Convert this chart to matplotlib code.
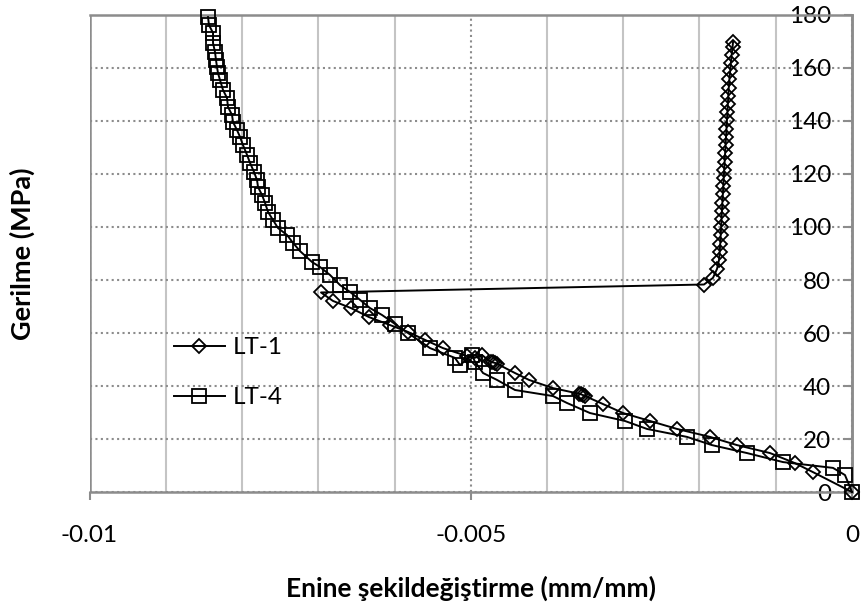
import matplotlib
matplotlib.use("Agg")
import matplotlib.pyplot as plt
from matplotlib.ticker import MultipleLocator, FixedLocator

# --- Data: lateral strain (mm/mm) vs. stress (MPa) ---
LT1_STRAIN = [
    0.0, -0.000511, -0.000748, -0.001075, -0.001508, -0.001862, -0.002295,
    -0.002649, -0.003003, -0.003266, -0.00350, -0.00353, -0.00356, -0.00358,
    -0.003921, -0.004236, -0.004420, -0.00465, -0.00468, -0.00471, -0.00474,
    -0.004852, -0.00495, -0.00505, -0.005364, -0.005600, -0.005823,
    -0.006059, -0.006334, -0.006570, -0.006807, -0.006964,
    -0.001941, -0.001823, -0.001770, -0.001744, -0.001735, -0.001728,
    -0.001722, -0.001716, -0.001711, -0.001706, -0.001700, -0.001694,
    -0.001688, -0.001682, -0.001676, -0.001670, -0.001664, -0.001658,
    -0.001652, -0.001646, -0.001640, -0.001634, -0.001628, -0.001622,
    -0.001616, -0.001608, -0.001598, -0.001588, -0.001578, -0.001566,
    -0.001560,
]
LT1_STRESS = [
    0.0, 7.5, 10.9, 14.7, 17.7, 20.8, 23.8,
    26.8, 29.8, 33.2, 36.2, 36.6, 36.9, 37.1,
    39.2, 42.3, 44.9, 48.3, 48.7, 48.9, 49.1,
    51.7, 50.6, 51.3, 54.3, 57.4, 60.4,
    63.0, 66.0, 69.4, 72.1, 75.3,
    78.3, 80.8, 84.2, 87.5, 90.6, 93.7,
    96.8, 99.9, 103.0, 106.1, 109.2, 112.3,
    115.4, 118.5, 121.6, 124.7, 127.8, 130.9,
    134.0, 137.1, 140.2, 143.3, 146.4, 149.5,
    152.6, 155.7, 158.8, 161.9, 165.0, 168.1,
    169.8,
]

LT4_STRAIN = [
    0.0, -0.000092, -0.000249, -0.000905, -0.001377, -0.001836, -0.002164,
    -0.002689, -0.002977, -0.003436, -0.003738, -0.003921, -0.004420,
    -0.004656, -0.004839, -0.004944, -0.004984, -0.005141, -0.005207,
    -0.005534, -0.005823, -0.005993, -0.006164, -0.006321, -0.006452,
    -0.006584, -0.006715, -0.006846, -0.006977, -0.007082, -0.007239,
    -0.007331, -0.007410, -0.007528, -0.007593, -0.007659, -0.007698,
    -0.007738, -0.007790, -0.007803, -0.007843, -0.007895, -0.007934,
    -0.007987, -0.008026, -0.008066, -0.008118, -0.008131, -0.008184,
    -0.008197, -0.008249, -0.008289, -0.008315, -0.008328, -0.008341,
    -0.008354, -0.008380, -0.008380, -0.008433, -0.008446,
]
LT4_STRESS = [
    0.0, 6.4, 9.1, 11.3, 14.7, 17.7, 20.8,
    23.8, 26.8, 29.8, 33.6, 36.2, 38.5,
    42.3, 44.9, 49.1, 51.7, 47.9, 50.6,
    54.3, 60.0, 63.4, 66.8, 69.4, 72.5,
    75.5, 78.1, 81.9, 84.9, 86.8, 90.9,
    94.0, 97.0, 99.6, 102.6, 105.7, 109.1,
    112.1, 115.1, 117.7, 120.8, 124.2, 127.2,
    130.9, 134.0, 136.6, 139.6, 142.3, 145.3,
    148.7, 151.7, 155.5, 158.1, 160.4, 163.0,
    166.0, 169.4, 173.2, 176.2, 179.2,
]

SERIES_LABELS = ["LT-1", "LT-4"]
X_TICKS = [-0.01, -0.005, 0]
X_TICK_LABELS = ["-0.01", "-0.005", "0"]

FONT = ["Lato", "DejaVu Sans"]
AXIS_GRAY = "#8c8c8c"

plt.rcParams["font.family"] = FONT

fig = plt.figure(figsize=(8.64, 6.04), dpi=100)
ax = fig.add_axes([0.1036, 0.1854, 0.8825, 0.7898])

ax.plot(LT1_STRAIN, LT1_STRESS, color="black", lw=1.4, marker="D",
        markersize=7.2, markerfacecolor="none", markeredgecolor="black",
        markeredgewidth=1.3, label=SERIES_LABELS[0], clip_on=False, zorder=3)
ax.plot(LT4_STRAIN, LT4_STRESS, color="black", lw=1.4, marker="s",
        markersize=9.5, markerfacecolor="none", markeredgecolor="black",
        markeredgewidth=1.3, label=SERIES_LABELS[1], clip_on=False, zorder=3)

ax.set_xlim(-0.01, 0)
ax.set_ylim(0, 180)

# x axis: labels only at the major positions, light minor grid every 0.001
ax.xaxis.set_major_locator(FixedLocator(X_TICKS))
ax.set_xticklabels(X_TICK_LABELS)
ax.xaxis.set_minor_locator(MultipleLocator(0.001))
ax.yaxis.set_major_locator(MultipleLocator(20))

ax.grid(which="major", axis="both", color=AXIS_GRAY, linestyle=(0, (1, 1.6)),
        lw=1.5, zorder=0)
ax.grid(which="minor", axis="x", color="#c4c4c4", linestyle="-", lw=1.5,
        zorder=0)

# y axis sits at strain = 0, with its labels inside the plot area
ax.spines["left"].set_position(("data", 0))
for side in ["left", "right", "top", "bottom"]:
    ax.spines[side].set_color(AXIS_GRAY)
    ax.spines[side].set_linewidth(1.8)
ax.axvline(-0.01, color=AXIS_GRAY, lw=1.8, zorder=1)

ax.tick_params(axis="x", which="major", direction="out", length=6,
               width=1.5, color=AXIS_GRAY, pad=18, labelsize=17.5)
ax.tick_params(axis="x", which="minor", length=0)
ax.tick_params(axis="y", which="major", direction="out", length=6,
               width=1.5, color=AXIS_GRAY, pad=9, labelsize=17.5)

ax.set_xlabel("Enine şekildeğiştirme (mm/mm)", fontsize=19, fontweight="bold")
ax.xaxis.set_label_coords(0.5, -0.176)
ax.set_ylabel("Gerilme (MPa)", fontsize=19.5, fontweight="bold")
ax.yaxis.set_label_coords(-0.071, 0.5)

ax.legend(loc="center left", bbox_to_anchor=(0.098, 0.25), frameon=False,
          fontsize=17.5, handlelength=2.1, labelspacing=1.2,
          handletextpad=0.3, borderaxespad=0)

fig.savefig("out.png", dpi=100)
